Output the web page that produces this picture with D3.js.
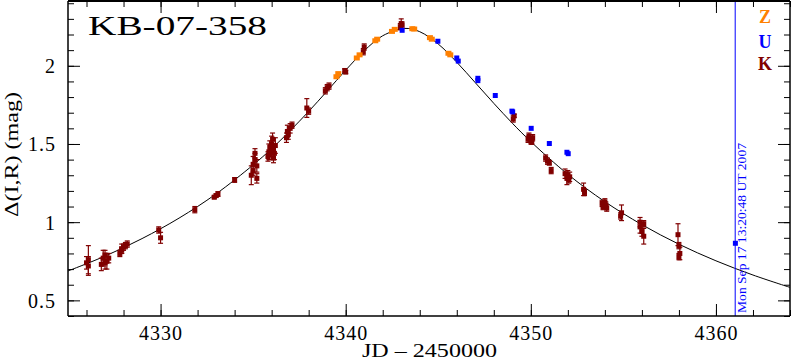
<!DOCTYPE html>
<html><head><meta charset="utf-8">
<script src="https://cdn.jsdelivr.net/npm/d3@7"></script>
<style>body{margin:0;background:#fff}svg{display:block}</style>
</head><body><svg id="c" width="792" height="362"></svg>
<script>
// ---- data ----
const title = "KB-07-358";
const xLabel = "JD \u2013 2450000";
const yLabel = "\u0394(I,R) (mag)";
const dateLabel = "Mon Sep 17 13:20:48 UT 2007";
const nowT = 4361.04;
const xMajorTicks = [4330, 4340, 4350, 4360];
const yMajorTicks = [0.5, 1, 1.5, 2];

const modelT = [4325,4327,4329,4331,4333,4335,4336,4337,4338,4339,4340,4341,4342,4343.2,4344,4345,4346,4347,4348,4349,4350,4352,4354,4356,4358,4360,4362,4364];
const modelV = [0.688,0.783,0.895,1.026,1.181,1.366,1.470,1.585,1.708,1.839,1.972,2.096,2.192,2.239,2.218,2.139,2.023,1.892,1.760,1.633,1.515,1.306,1.131,0.984,0.859,0.753,0.662,0.583];

// K (dark red) with errors
const kT = [4326.0,4326.1,4326.1,4326.8,4326.9,4327.0,4327.0,4327.1,4327.2,4327.8,4327.9,4327.9,4328.0,4328.1,4328.2,4329.9,4330.0,4331.85,4332.9,4333.0,4333.1,4334.0,4334.9,4335.0,4335.0,4335.1,4335.1,4335.2,4335.2,4335.8,4335.85,4335.9,4335.9,4336.0,4336.0,4336.05,4336.1,4336.1,4336.15,4336.2,4336.8,4336.85,4336.9,4337.0,4337.1,4337.9,4338.0,4338.9,4339.0,4339.1,4339.95,4340.0,4340.95,4341.0,4342.95,4343.0,4343.05,4349.05,4349.1,4349.85,4349.9,4350.0,4350.05,4350.1,4350.8,4350.9,4351.0,4351.1,4351.85,4351.95,4352.0,4352.05,4352.1,4352.85,4352.9,4353.85,4353.9,4354.0,4354.05,4354.1,4354.9,4354.85,4355.9,4355.9,4356.0,4356.1,4356.1,4357.95,4358.0,4358.05,4358.0];
const kV = [0.74,0.76,0.72,0.73,0.77,0.79,0.74,0.75,0.77,0.80,0.82,0.83,0.84,0.85,0.86,0.95,0.90,1.08,1.16,1.17,1.18,1.27,1.30,1.33,1.37,1.40,1.44,1.36,1.28,1.42,1.45,1.48,1.43,1.50,1.46,1.53,1.47,1.41,1.44,1.49,1.54,1.58,1.56,1.60,1.62,1.73,1.71,1.84,1.86,1.87,1.97,1.96,2.09,2.12,2.25,2.27,2.26,1.66,1.68,1.53,1.55,1.52,1.51,1.54,1.41,1.39,1.38,1.33,1.31,1.28,1.30,1.27,1.29,1.21,1.19,1.12,1.10,1.13,1.11,1.09,1.06,1.04,1.00,0.97,0.94,0.99,0.91,0.92,0.85,0.80,0.78];
const kE = [0.04,0.09,0.06,0.04,0.05,0.03,0.04,0.05,0.03,0.02,0.02,0.03,0.02,0.02,0.02,0.02,0.035,0.02,0.01,0.01,0.015,0.015,0.06,0.03,0.05,0.04,0.03,0.04,0.03,0.03,0.05,0.04,0.03,0.05,0.04,0.04,0.03,0.03,0.04,0.05,0.03,0.04,0.03,0.03,0.02,0.06,0.02,0.02,0.02,0.02,0.01,0.01,0.02,0.02,0.02,0.03,0.02,0.02,0.01,0.02,0.02,0.02,0.01,0.02,0.02,0.02,0.015,0.02,0.03,0.04,0.03,0.02,0.03,0.04,0.02,0.02,0.02,0.02,0.02,0.02,0.05,0.02,0.03,0.04,0.03,0.02,0.05,0.07,0.02,0.04,0.02];

// Z (orange)
const zT = [4339.5,4339.6,4340.6,4340.75,4341.6,4341.7,4342.5,4342.65,4343.6,4343.7,4344.55,4344.65,4345.55,4345.65];
const zV = [1.93,1.95,2.05,2.07,2.16,2.17,2.22,2.233,2.237,2.235,2.18,2.17,2.08,2.07];

// U (blue)
const uT = [4343.05,4344.98,4346.0,4346.08,4347.14,4347.14,4348.08,4348.98,4349.02,4350.02,4351.0,4351.95,4352.02,4361.05];
const uV = [2.227,2.157,2.05,2.03,1.905,1.92,1.81,1.71,1.705,1.60,1.503,1.447,1.438,0.865];

const legendNames = ["Z","U","K"];
const colors = {Z:"#ff8000", U:"#0000ff", K:"#800000"};

// ---- drawing ----
const svg = d3.select("#c");
const L=68, R=790, T=1, B=316;
const x = d3.scaleLinear().domain([4325,4364]).range([L,R]);
const y = d3.scaleLinear().domain([0.4,2.4143]).range([B,T]);
const serif = "'Liberation Serif','Times New Roman',serif";

svg.append("clipPath").attr("id","cp").append("rect")
  .attr("x",L).attr("y",T).attr("width",R-L).attr("height",B-T);

// model curve
const curveData = modelT.map((t,i)=>[t,modelV[i]]);
svg.append("path").datum(curveData)
  .attr("clip-path","url(#cp)")
  .attr("fill","none").attr("stroke","#000").attr("stroke-width",1)
  .attr("d", d3.line().x(d=>x(d[0])).y(d=>y(d[1])).curve(d3.curveCatmullRom.alpha(0.5)));

// vertical "now" line
svg.append("line").attr("x1",x(nowT)).attr("x2",x(nowT)).attr("y1",T).attr("y2",B)
  .attr("stroke","#0000ff").attr("stroke-width",1);
svg.append("text").attr("transform",`translate(${x(nowT)+11},313) rotate(-90)`)
  .attr("font-family",serif).attr("font-size",11.5).attr("fill","#0000ff")
  .attr("textLength",170).attr("lengthAdjust","spacingAndGlyphs").text(dateLabel);

// K points with error bars
const kData = kT.map((t,i)=>({t, v:kV[i], e:kE[i]}));
const gK = svg.append("g").attr("clip-path","url(#cp)");
const kc = colors.K;
gK.selectAll("line.eb").data(kData).join("line").attr("class","eb")
  .attr("x1",d=>x(d.t)).attr("x2",d=>x(d.t))
  .attr("y1",d=>y(d.v-d.e)).attr("y2",d=>y(d.v+d.e))
  .attr("stroke",kc).attr("stroke-width",1.2);
gK.selectAll("line.c1").data(kData).join("line").attr("class","c1")
  .attr("x1",d=>x(d.t)-2.5).attr("x2",d=>x(d.t)+2.5)
  .attr("y1",d=>y(d.v+d.e)).attr("y2",d=>y(d.v+d.e))
  .attr("stroke",kc).attr("stroke-width",1.2);
gK.selectAll("line.c2").data(kData).join("line").attr("class","c2")
  .attr("x1",d=>x(d.t)-2.5).attr("x2",d=>x(d.t)+2.5)
  .attr("y1",d=>y(d.v-d.e)).attr("y2",d=>y(d.v-d.e))
  .attr("stroke",kc).attr("stroke-width",1.2);
gK.selectAll("rect").data(kData).join("rect")
  .attr("x",d=>x(d.t)-2.5).attr("y",d=>y(d.v)-2.5).attr("width",5).attr("height",5)
  .attr("fill",kc);

// Z points
const zData = zT.map((t,i)=>({t, v:zV[i]}));
svg.append("g").selectAll("rect").data(zData).join("rect")
  .attr("x",d=>x(d.t)-3).attr("y",d=>y(d.v)-2.5).attr("width",6).attr("height",5)
  .attr("fill",colors.Z);

// U points
const uData = uT.map((t,i)=>({t, v:uV[i]}));
svg.append("g").selectAll("rect").data(uData).join("rect")
  .attr("x",d=>x(d.t)-2.5).attr("y",d=>y(d.v)-2.5).attr("width",5).attr("height",5)
  .attr("fill",colors.U);

// axes (ticks inward on all four sides)
const xMinor = d3.range(4326, 4365, 2);
const yMinor = d3.range(4, 25).map(i=>i/10);
function styleAxis(g){ g.select(".domain").remove(); g.selectAll("line").attr("stroke","#000").attr("stroke-width",1); }
svg.append("g").attr("transform",`translate(0,${B})`)
  .call(d3.axisBottom(x).tickValues(xMinor).tickSize(-6).tickFormat("")).call(styleAxis);
svg.append("g").attr("transform",`translate(0,${B})`)
  .call(d3.axisBottom(x).tickValues(xMajorTicks).tickSize(-12).tickPadding(24).tickFormat(d3.format("d")))
  .call(styleAxis)
  .call(g=>g.selectAll("text").attr("font-family",serif).attr("font-size",20).attr("letter-spacing",1).attr("fill","#000").attr("dy",0).attr("y",24));
svg.append("g").attr("transform",`translate(0,${T})`)
  .call(d3.axisTop(x).tickValues(xMinor).tickSize(-6).tickFormat("")).call(styleAxis);
svg.append("g").attr("transform",`translate(0,${T})`)
  .call(d3.axisTop(x).tickValues(xMajorTicks).tickSize(-12).tickFormat("")).call(styleAxis);
svg.append("g").attr("transform",`translate(${L},0)`)
  .call(d3.axisLeft(y).tickValues(yMinor).tickSize(-6).tickFormat("")).call(styleAxis);
svg.append("g").attr("transform",`translate(${L},0)`)
  .call(d3.axisLeft(y).tickValues(yMajorTicks).tickSize(-12).tickPadding(12).tickFormat(d3.format("")))
  .call(styleAxis)
  .call(g=>g.selectAll("text").attr("font-family",serif).attr("font-size",20).attr("letter-spacing",1).attr("fill","#000").attr("dy","0.35em"));
svg.append("g").attr("transform",`translate(${R},0)`)
  .call(d3.axisRight(y).tickValues(yMinor).tickSize(-6).tickFormat("")).call(styleAxis);
svg.append("g").attr("transform",`translate(${R},0)`)
  .call(d3.axisRight(y).tickValues(yMajorTicks).tickSize(-12).tickFormat("")).call(styleAxis);

// frame
svg.append("line").attr("x1",L).attr("x2",R).attr("y1",B).attr("y2",B).attr("stroke","#000").attr("stroke-width",1.5);
svg.append("line").attr("x1",L).attr("x2",R).attr("y1",T).attr("y2",T).attr("stroke","#000").attr("stroke-width",2);
svg.append("line").attr("x1",L).attr("x2",L).attr("y1",T).attr("y2",B).attr("stroke","#000").attr("stroke-width",1.5);
svg.append("line").attr("x1",R).attr("x2",R).attr("y1",T).attr("y2",B).attr("stroke","#000").attr("stroke-width",1.5);

// title
svg.append("text").attr("x",88).attr("y",35).attr("font-family",serif).attr("font-size",28)
  .attr("textLength",179).attr("lengthAdjust","spacingAndGlyphs").attr("fill","#000").text(title);

// legend
legendNames.forEach((n,i)=>{
  svg.append("text").attr("x",765).attr("y",[23,48,70][i]).attr("text-anchor","middle")
    .attr("font-family",serif).attr("font-weight","bold").attr("font-size",18)
    .attr("fill",colors[n]).text(n);
});

// axis labels
svg.append("text").attr("x",362).attr("y",357).attr("font-family",serif).attr("font-size",19)
  .attr("textLength",135).attr("lengthAdjust","spacingAndGlyphs").attr("fill","#000").text(xLabel);
svg.append("text").attr("transform","translate(18,217) rotate(-90)").attr("font-family",serif).attr("font-size",19)
  .attr("textLength",125).attr("lengthAdjust","spacingAndGlyphs").attr("fill","#000").text(yLabel);
</script>
</body></html>
